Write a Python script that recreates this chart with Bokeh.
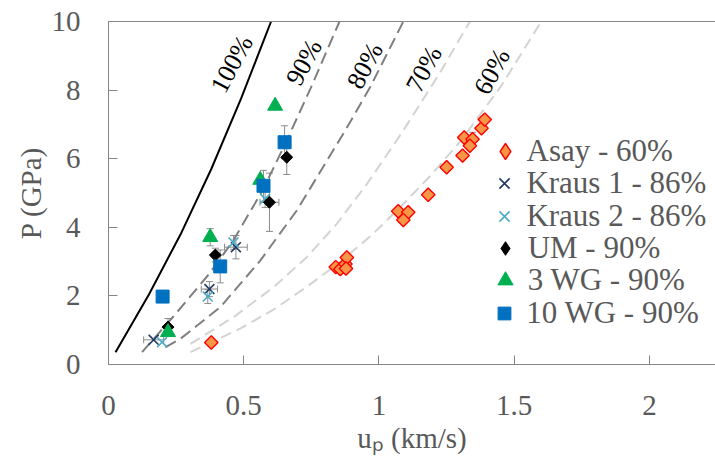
import numpy as np
from bokeh.plotting import figure
from bokeh.models import (ColumnDataSource, Whisker, TeeHead, Label, Legend, LegendItem,
                          LinearAxis, FixedTicker, Range1d, Title)
from bokeh.embed import file_html
from bokeh.resources import INLINE

# ---------------- data ----------------
asay_up = [0.380, 0.840, 0.857, 0.876, 0.881, 0.878, 1.071, 1.108, 1.090, 1.182,
           1.250, 1.309, 1.315, 1.346, 1.336, 1.379, 1.391]
asay_p = [0.64, 2.84, 2.78, 2.93, 3.12, 2.80, 4.47, 4.44, 4.21, 4.95,
          5.75, 6.09, 6.62, 6.57, 6.38, 6.89, 7.14]
asay_p_err = [0, 0, 0, 0, 0, 0, 0, 0, 0, 0, 0, 0, 0, 0.2, 0, 0, 0]

kraus1_up = [0.167, 0.373, 0.471]
kraus1_p = [0.72, 2.20, 3.42]
kraus1_up_err = [0.037, 0.03, 0.042]
kraus1_p_err = [0.0, 0.22, 0.34]

kraus2_up = [0.198, 0.367, 0.462, 0.579]
kraus2_p = [0.65, 1.98, 3.56, 4.83]
kraus2_up_err = [0.0, 0.0, 0.0, 0.0]
kraus2_p_err = [0.0, 0.2, 0.2, 0.25]

um_up = [0.220, 0.395, 0.595, 0.659]
um_p = [1.09, 3.19, 4.73, 6.04]
um_up_err = [0.0, 0.0, 0.035, 0.0]
um_p_err = [0.25, 0.2, 0.85, 0.5]

wg3_up = [0.220, 0.376, 0.561, 0.616]
wg3_p = [0.94, 3.71, 5.38, 7.54]
wg3_p_err = [0.0, 0.25, 0.0, 0.0]

wg10_up = [0.200, 0.413, 0.573, 0.651]
wg10_p = [1.98, 2.86, 5.21, 6.48]
wg10_p_err = [0.0, 0.48, 0.45, 0.48]

# Hugoniot curves
c100_up = [0.026, 0.15, 0.27, 0.38, 0.49, 0.601]
c100_p = [0.36, 2.05, 3.85, 5.70, 7.75, 10.0]
c90_up = [0.124, 0.24, 0.37, 0.46, 0.57, 0.65, 0.75, 0.854]
c90_p = [0.36, 1.40, 2.62, 3.60, 5.08, 6.38, 8.10, 10.0]
c80_up = [0.21, 0.266, 0.413, 0.561, 0.696, 0.875, 0.967, 1.090]
c80_p = [0.50, 0.75, 1.67, 3.03, 4.49, 6.82, 8.08, 10.0]
c70_up = [0.303, 0.462, 0.610, 0.733, 0.844, 0.955, 1.084, 1.225, 1.336]
c70_p = [0.60, 1.38, 2.25, 3.13, 4.10, 5.26, 6.75, 8.50, 10.0]
c60_up = [0.303, 0.49, 0.61, 0.73, 0.85, 0.97, 1.08, 1.19, 1.30, 1.45, 1.60]
c60_p = [0.36, 1.06, 1.60, 2.25, 2.95, 3.75, 4.60, 5.50, 6.50, 8.10, 10.0]

curve_labels = ["100%", "90%", "80%", "70%", "60%"]
curve_label_up = [0.456, 0.723, 0.948, 1.166, 1.418]
curve_label_p = [8.76, 8.81, 8.71, 8.61, 8.54]

legend_labels = ["Asay - 60%", "Kraus 1 - 86%", "Kraus 2 - 86%", "UM - 90%",
                 "3 WG - 90%", "10 WG - 90%"]

x_ticks = [0, 0.5, 1, 1.5, 2]
x_tick_labels = ["0", "0.5", "1", "1.5", "2"]
y_ticks = [0, 2, 4, 6, 8, 10]

# ---------------- figure ----------------
FONT = "Liberation Serif"
GRAY_TXT = "#595959"
AXIS_C = "#868686"
FRAME_L, FRAME_T, FRAME_B = 108, 21, 364
W, H = 715, 466

p = figure(width=W, height=H, x_range=Range1d(0, 2.244), y_range=Range1d(0, 10),
           output_backend="svg", toolbar_location=None,
           min_border_left=FRAME_L, min_border_right=0, min_border_top=FRAME_T,
           min_border_bottom=H - FRAME_B)
p.outline_line_color = None
p.xgrid.visible = False
p.ygrid.visible = False
p.background_fill_color = "white"
p.border_fill_color = "white"

xa = p.below[0]
xa.ticker = FixedTicker(ticks=x_ticks)
xa.major_label_overrides = {t: s for t, s in zip(x_ticks, x_tick_labels)}
ya = p.left[0]
ya.ticker = FixedTicker(ticks=y_ticks)
for ax, so in ((xa, 31), (ya, 28)):
    ax.axis_line_color = AXIS_C
    ax.major_tick_line_color = AXIS_C
    ax.minor_tick_line_color = None
    ax.major_tick_in = 9
    ax.major_tick_out = 0
    ax.major_label_text_font = FONT
    ax.major_label_text_font_size = "29px"
    ax.major_label_text_color = GRAY_TXT
    ax.major_label_standoff = so

xa.axis_label = "u\u209a (km/s)"
xa.axis_label_text_font = FONT
xa.axis_label_text_font_size = "29px"
xa.axis_label_text_font_style = "normal"
xa.axis_label_text_color = GRAY_TXT
xa.axis_label_standoff = 4

p.add_layout(Title(text="P (GPa)", align="center", offset=13, standoff=4,
                   text_font=FONT, text_font_size="29px", text_font_style="normal",
                   text_color=GRAY_TXT), "left")

top = LinearAxis(ticker=FixedTicker(ticks=[]), axis_line_color=AXIS_C,
                 major_tick_line_color=None, minor_tick_line_color=None,
                 major_label_text_font_size="0px")
p.add_layout(top, "above")

# curves
p.line(c60_up, c60_p, line_color="#D3D3D3", line_width=2, line_dash="11 6")
p.line(c70_up, c70_p, line_color="#D3D3D3", line_width=2, line_dash="11 6")
p.line(c80_up, c80_p, line_color="#7F7F7F", line_width=2, line_dash="12 6")
p.line(c90_up, c90_p, line_color="#7F7F7F", line_width=2, line_dash="12 6")
p.line(c100_up, c100_p, line_color="black", line_width=2)

ERR_C = "#8C8C8C"


def yerr(xs, ys, es):
    d = [(x, y, e) for x, y, e in zip(xs, ys, es) if e > 0]
    if not d:
        return
    src = ColumnDataSource(dict(x=[a for a, _, _ in d],
                                lo=[b - c for _, b, c in d],
                                hi=[b + c for _, b, c in d]))
    p.add_layout(Whisker(base="x", lower="lo", upper="hi", source=src, dimension="height",
                         line_color=ERR_C, line_width=1,
                         upper_head=TeeHead(size=7, line_color=ERR_C, line_width=1),
                         lower_head=TeeHead(size=7, line_color=ERR_C, line_width=1)))


def xerr(xs, ys, es):
    d = [(x, y, e) for x, y, e in zip(xs, ys, es) if e > 0]
    if not d:
        return
    src = ColumnDataSource(dict(y=[b for _, b, _ in d],
                                lo=[a - c for a, _, c in d],
                                hi=[a + c for a, _, c in d]))
    p.add_layout(Whisker(base="y", lower="lo", upper="hi", source=src, dimension="width",
                         line_color=ERR_C, line_width=1,
                         upper_head=TeeHead(size=7, line_color=ERR_C, line_width=1),
                         lower_head=TeeHead(size=7, line_color=ERR_C, line_width=1)))


yerr(asay_up, asay_p, asay_p_err)
yerr(kraus1_up, kraus1_p, kraus1_p_err)
xerr(kraus1_up, kraus1_p, kraus1_up_err)
yerr(kraus2_up, kraus2_p, kraus2_p_err)
xerr(kraus2_up, kraus2_p, kraus2_up_err)
yerr(um_up, um_p, um_p_err)
xerr(um_up, um_p, um_up_err)
yerr(wg3_up, wg3_p, wg3_p_err)
yerr(wg10_up, wg10_p, wg10_p_err)

ASAY_STYLE = dict(fill_color="#F79646", line_color="#FF0000", line_width=1.4)
UM_STYLE = dict(fill_color="black", line_color="black")
p.scatter(asay_up, asay_p, marker="square", angle=np.pi / 4, size=9.5, **ASAY_STYLE)
r_k1 = p.scatter(kraus1_up, kraus1_p, marker="x", size=14, line_color="#203A63", line_width=1.6)
r_k2 = p.scatter(kraus2_up, kraus2_p, marker="x", size=14, line_color="#4BACC6", line_width=1.6)
p.scatter(um_up, um_p, marker="square", angle=np.pi / 4, size=8.5, **UM_STYLE)
r_w3 = p.scatter(wg3_up, wg3_p, marker="triangle", size=15, fill_color="#00B050", line_color="#00B050")
r_w10 = p.scatter(wg10_up, wg10_p, marker="square", size=13, fill_color="#0070C0", line_color="#0070C0")

# hidden diamond renderers used only for the legend (legend markers are drawn unrotated)
r_asay_leg = p.scatter(asay_up, asay_p, marker="diamond", visible=False, **ASAY_STYLE)
r_um_leg = p.scatter(um_up, um_p, marker="diamond", visible=False, **UM_STYLE)

# curve labels
for t, x, y in zip(curve_labels, curve_label_up, curve_label_p):
    p.add_layout(Label(x=x, y=y, text=t, angle=1.08, text_align="center", text_baseline="middle",
                       text_font=FONT, text_font_size="26px", text_color="black"))

# legend: one Legend per row so that rows and marker sizes match the reference
leg_renderers = [r_asay_leg, r_k1, r_k2, r_um_leg, r_w3, r_w10]
leg_marker_size = [16, 14.5, 14.5, 13.5, 15, 13]
leg_row_y = [151, 183, 216, 248, 280, 313]   # row centres (px from top)
GLYPH_CX, TEXT_X, ROW_H = 504.5, 527, 40
for lab, rend, ms, cy in zip(legend_labels, leg_renderers, leg_marker_size, leg_row_y):
    gw = ms / 0.4
    lg = Legend(items=[LegendItem(label=lab, renderers=[rend])],
                location=(GLYPH_CX - gw / 2 - FRAME_L, FRAME_B - (cy + ROW_H / 2)))
    lg.label_text_font = FONT
    lg.label_text_font_size = "31px"
    lg.label_text_color = GRAY_TXT
    lg.glyph_width = int(round(gw))
    lg.glyph_height = ROW_H
    lg.label_height = ROW_H
    lg.label_standoff = int(round(TEXT_X - GLYPH_CX - gw / 2))
    lg.spacing = 0
    lg.padding = 0
    lg.margin = 0
    lg.background_fill_alpha = 0
    lg.border_line_alpha = 0
    lg.inactive_fill_alpha = 0
    p.add_layout(lg)

open("out.html", "w").write(file_html(p, INLINE))
